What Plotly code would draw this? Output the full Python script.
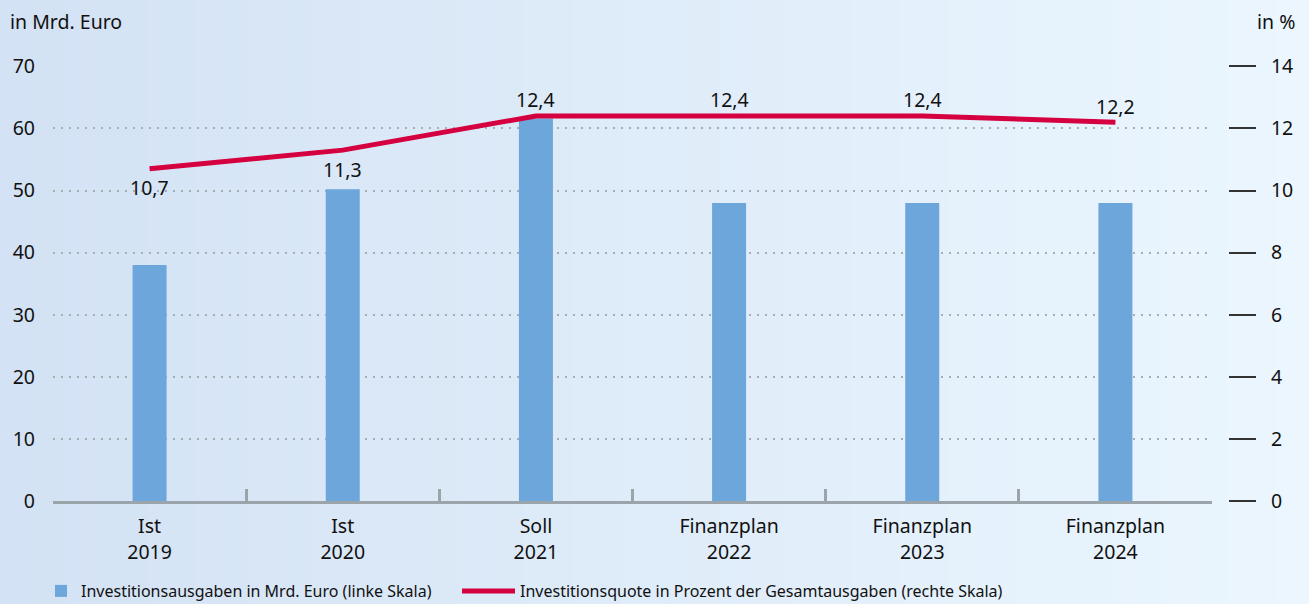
import plotly.graph_objects as go

categories = ["Ist<br>2019", "Ist<br>2020", "Soll<br>2021", "Finanzplan<br>2022", "Finanzplan<br>2023", "Finanzplan<br>2024"]
ausgaben = [38.0, 50.2, 61.6, 48.0, 48.0, 48.0]
quote = [10.7, 11.3, 12.4, 12.4, 12.4, 12.2]
quote_label_below = [True, True, False, False, False, False]
left_ticks = [0, 10, 20, 30, 40, 50, 60, 70]
right_ticks = [0, 2, 4, 6, 8, 10, 12, 14]

W, H = 1309, 604
ML, MR, MT, MB = 53, 20, 66, 103
PW = W - ML - MR
PH = H - MT - MB
x_end = (1212 - ML) / PW
y2_pos = (1228 - ML) / PW

FONT = "Noto Sans"
FS = 19.5

fig = go.Figure()
fig.add_trace(go.Bar(
    x=categories, y=ausgaben, name="Investitionsausgaben in Mrd. Euro (linke Skala)",
    marker=dict(color="#6ca6da", line=dict(width=0)), width=0.176, yaxis="y", legend="legend",
))
fig.add_trace(go.Scatter(
    x=categories, y=quote, name="Investitionsquote in Prozent der Gesamtausgaben (rechte Skala)",
    mode="lines", line=dict(color="#d5003f", width=5), yaxis="y2", cliponaxis=False,
    legend="legend2",
))

# background gradient stripes
shapes = []
N = 80
c0 = (211, 226, 244)
c1 = (235, 246, 254)
for i in range(N):
    t = i / (N - 1)
    col = tuple(round(c0[k] + (c1[k] - c0[k]) * t) for k in range(3))
    xa = (-ML + i * W / N) / PW
    xb = (-ML + (i + 1) * W / N + 1) / PW
    shapes.append(dict(type="rect", xref="paper", yref="paper", x0=xa, x1=xb,
                       y0=-MB / PH, y1=1 + MT / PH, fillcolor="rgb(%d,%d,%d)" % col,
                       line=dict(width=0), layer="below"))

annotations = [
    dict(text="in Mrd. Euro", xref="paper", yref="paper", x=(8 - ML) / PW, y=1 + (MT - 22) / PH,
         xanchor="left", yanchor="middle", showarrow=False, font=dict(size=FS)),
    dict(text="in %", xref="paper", yref="paper", x=(1297 - ML) / PW, y=1 + (MT - 22) / PH,
         xanchor="right", yanchor="middle", showarrow=False, font=dict(size=FS)),
]
for c, v, below in zip(categories, quote, quote_label_below):
    annotations.append(dict(
        text=f"{v:.1f}".replace(".", ","), x=c, y=v, xref="x", yref="y2",
        xanchor="center", yanchor="middle", showarrow=False,
        yshift=-19 if below else 16, font=dict(size=FS, color="#111111"),
    ))

legend_common = dict(orientation="h", xref="container", yref="container",
                     xanchor="left", y=(H - 591) / H, yanchor="middle",
                     font=dict(size=16, family=FONT, color="#111111"),
                     bgcolor="rgba(0,0,0,0)")

fig.update_layout(
    template="none",
    width=W, height=H,
    margin=dict(l=ML, r=MR, t=MT, b=MB, autoexpand=False),
    paper_bgcolor="rgb(223,236,249)", plot_bgcolor="rgba(0,0,0,0)",
    font=dict(family=FONT, size=FS, color="#111111"),
    separators=",.",
    shapes=shapes,
    showlegend=True,
    legend=dict(x=41 / W, itemwidth=30, **legend_common),
    legend2=dict(x=457 / W, itemwidth=53, **legend_common),
    xaxis=dict(domain=[0, x_end], showline=True, linecolor="#9aa4aa", linewidth=3,
               ticks="inside", tickson="boundaries", ticklen=12, tickwidth=3, tickcolor="#9aa4aa",
               showgrid=False, zeroline=False, tickfont=dict(size=FS), ticklabelstandoff=6,
               automargin=False, fixedrange=True),
    yaxis=dict(range=[0, 70.05], tickvals=left_ticks, showgrid=True, gridcolor="#a7aeb3",
               griddash="2px,6px", gridwidth=2, zeroline=False, showline=False, ticks="",
               tickfont=dict(size=FS), ticklabelstandoff=17, automargin=False, fixedrange=True),
    yaxis2=dict(range=[0, 14.01], tickvals=right_ticks, overlaying="y", side="right",
                anchor="free", position=y2_pos, showgrid=False, zeroline=False, showline=False,
                ticks="outside", ticklen=27, tickwidth=1.5, tickcolor="#333333",
                tickfont=dict(size=FS), ticklabelstandoff=11, automargin=False, fixedrange=True),
    annotations=annotations,
)

fig.write_html("out.html", config={"displayModeBar": False},
               post_script="document.body.style.margin='0';document.body.style.overflow='hidden';")
